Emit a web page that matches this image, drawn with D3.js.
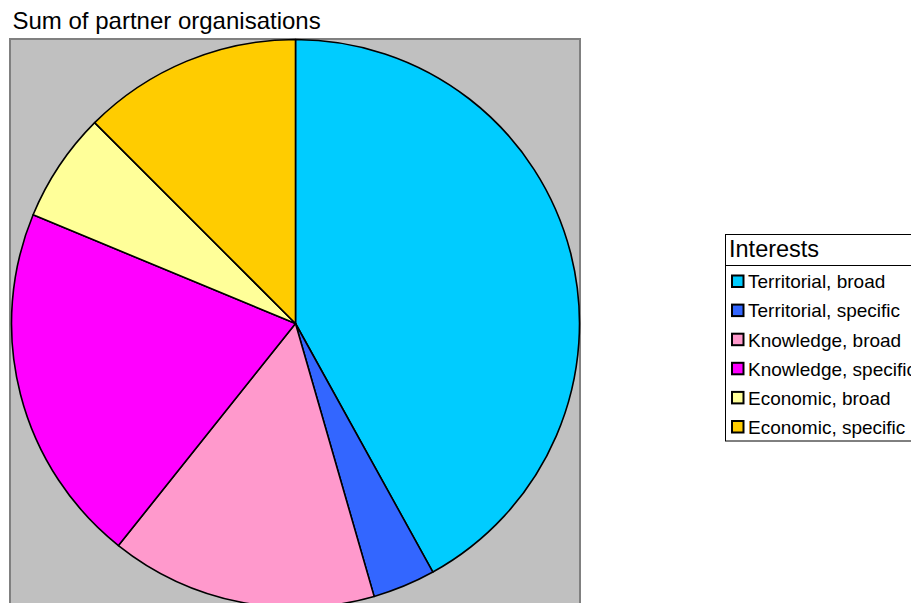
<!DOCTYPE html>
<html>
<head>
<meta charset="utf-8">
<script src="https://cdn.jsdelivr.net/npm/d3@7"></script>
<style>
  html, body { margin: 0; padding: 0; background: #ffffff; overflow: hidden; }
  svg { display: block; font-family: "Liberation Sans", Arial, sans-serif; }
</style>
</head>
<body>
<svg id="chart" width="911" height="603"></svg>
<script>
// Partner organisations by interest type
const categories = [
  "Territorial, broad",
  "Territorial, specific",
  "Knowledge, broad",
  "Knowledge, specific",
  "Economic, broad",
  "Economic, specific"
];
const values = [47, 4, 17, 23, 7, 14];
const colors = ["#00CCFF", "#3366FF", "#FF99CC", "#FF00FF", "#FFFF99", "#FFCC00"];
const chartTitle = "Sum of partner organisations";
const legendTitle = "Interests";

const svg = d3.select("#chart");

// Chart title
svg.append("text")
  .attr("x", 12.5)
  .attr("y", 29)
  .attr("font-size", 24)
  .attr("fill", "#000")
  .text(chartTitle);

// Plot area background
const plot = { x: 10, y: 39, w: 570, h: 620 };
svg.append("rect")
  .attr("x", plot.x)
  .attr("y", plot.y)
  .attr("width", plot.w)
  .attr("height", plot.h)
  .attr("fill", "#C0C0C0")
  .attr("stroke", "#808080")
  .attr("stroke-width", 2);

// Pie
const cx = 295.5, cy = 323.5, radius = 284;
const data = categories.map((c, i) => ({ name: c, value: values[i], color: colors[i] }));
const pie = d3.pie().sort(null).value(d => d.value).startAngle(0).endAngle(2 * Math.PI);
const arc = d3.arc().innerRadius(0).outerRadius(radius);

svg.append("g")
  .attr("transform", `translate(${cx},${cy})`)
  .selectAll("path")
  .data(pie(data))
  .join("path")
  .attr("d", arc)
  .attr("fill", d => d.data.color)
  .attr("stroke", "#000")
  .attr("stroke-width", 1.6)
  .attr("stroke-linejoin", "round");

// Legend
const lg = svg.append("g");
const lgX = 725.5, lgY = 234.5, lgH = 206.5;
lg.append("rect")
  .attr("x", lgX)
  .attr("y", lgY)
  .attr("width", 300)
  .attr("height", lgH)
  .attr("fill", "#fff")
  .attr("stroke", "#000")
  .attr("stroke-width", 1);
lg.append("text")
  .attr("x", 729)
  .attr("y", 257)
  .attr("font-size", 23.5)
  .attr("fill", "#000")
  .text(legendTitle);
lg.append("line")
  .attr("x1", lgX)
  .attr("x2", 911)
  .attr("y1", 265.5)
  .attr("y2", 265.5)
  .attr("stroke", "#000")
  .attr("stroke-width", 1);

const itemY = d3.scalePoint().domain(categories).range([281.5, 427]);
const items = lg.selectAll("g.item")
  .data(data)
  .join("g")
  .attr("class", "item")
  .attr("transform", d => `translate(0,${itemY(d.name)})`);
items.append("rect")
  .attr("x", 732)
  .attr("y", -6)
  .attr("width", 11.5)
  .attr("height", 11.5)
  .attr("fill", d => d.color)
  .attr("stroke", "#000")
  .attr("stroke-width", 2);
items.append("text")
  .attr("x", 748)
  .attr("y", 6.8)
  .attr("font-size", 19)
  .attr("fill", "#000")
  .text(d => d.name);
</script>
</body>
</html>
